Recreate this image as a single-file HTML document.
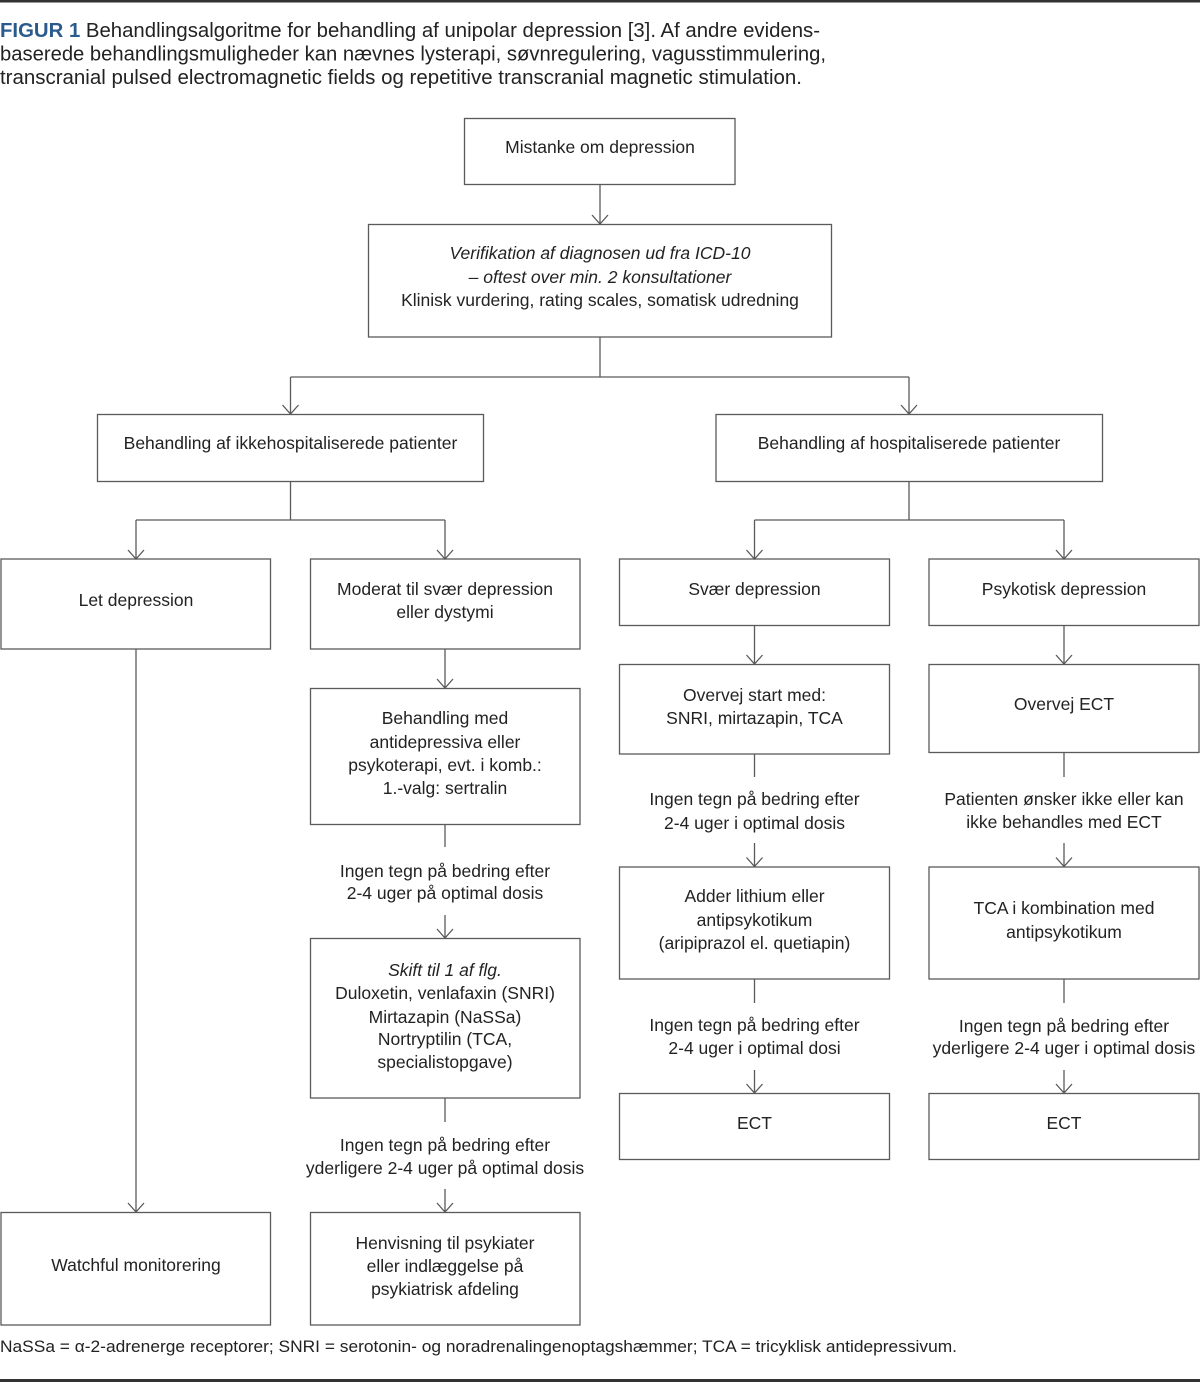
<!DOCTYPE html>
<html>
<head>
<meta charset="utf-8">
<style>
html,body{margin:0;padding:0;background:#fff;}
body{width:1200px;height:1382px;overflow:hidden;}
svg{display:block;}
text{font-family:"Liberation Sans",Arial,sans-serif;fill:#222;}
.t{font-size:17.5px;text-anchor:middle;}
.i{font-style:italic;}
.b{fill:none;stroke:#5a5a5a;stroke-width:1.3;}
.l{fill:none;stroke:#5a5a5a;stroke-width:1.3;}
</style>
</head>
<body>
<svg width="1200" height="1382" viewBox="0 0 1200 1382" xmlns="http://www.w3.org/2000/svg">
<!-- top & bottom rules -->
<rect x="0" y="0" width="1200" height="2.5" fill="#333"/>
<rect x="0" y="1379" width="1200" height="3" fill="#333"/>

<!-- title -->
<text x="0" y="37" font-size="20" textLength="820" lengthAdjust="spacingAndGlyphs"><tspan font-weight="bold" fill="#2b5b8c" style="fill:#2b5b8c">FIGUR 1</tspan> Behandlingsalgoritme for behandling af unipolar depression [3]. Af andre evidens-</text>
<text x="0" y="60.5" font-size="20" textLength="826" lengthAdjust="spacingAndGlyphs">baserede behandlingsmuligheder kan nævnes lysterapi, søvnregulering, vagusstimmulering,</text>
<text x="0" y="84" font-size="20" textLength="802" lengthAdjust="spacingAndGlyphs">transcranial pulsed electromagnetic fields og repetitive transcranial magnetic stimulation.</text>

<!-- boxes -->
<rect class="b" x="464.5" y="118.5" width="270.5" height="66"/>
<rect class="b" x="368.5" y="224.5" width="463" height="112.5"/>
<rect class="b" x="97.5" y="414.5" width="386" height="67"/>
<rect class="b" x="716" y="414.5" width="386.5" height="67"/>
<rect class="b" x="1" y="559" width="269.5" height="90"/>
<rect class="b" x="310.5" y="559" width="269.5" height="90"/>
<rect class="b" x="619.5" y="559" width="270" height="66.5"/>
<rect class="b" x="929" y="559" width="270" height="66.5"/>
<rect class="b" x="310.5" y="688.5" width="269.5" height="136"/>
<rect class="b" x="310.5" y="938.5" width="269.5" height="159.5"/>
<rect class="b" x="310.5" y="1212.5" width="269.5" height="112.5"/>
<rect class="b" x="1" y="1212.5" width="269.5" height="112.5"/>
<rect class="b" x="619.5" y="664.5" width="270" height="89.5"/>
<rect class="b" x="619.5" y="867" width="270" height="112"/>
<rect class="b" x="619.5" y="1093.5" width="270" height="66"/>
<rect class="b" x="929" y="664.5" width="270" height="88"/>
<rect class="b" x="929" y="867" width="270" height="112"/>
<rect class="b" x="929" y="1093.5" width="270" height="66"/>

<!-- connectors -->
<g class="l">
<path d="M600 184.5 V224 M592 215 L600 224 L608 215"/>
<path d="M600 337 V377 M290.5 377 H909 M290.5 377 V414 M282.5 405 L290.5 414 L298.5 405 M909 377 V414 M901 405 L909 414 L917 405"/>
<path d="M290.5 481.5 V520 M136 520 H445 M136 520 V559 M128 550 L136 559 L144 550 M445 520 V559 M437 550 L445 559 L453 550"/>
<path d="M136 649 V1212 M128 1203 L136 1212 L144 1203"/>
<path d="M445 649 V688 M437 679 L445 688 L453 679"/>
<path d="M445 824.5 V847 M445 915 V938 M437 929 L445 938 L453 929"/>
<path d="M445 1098 V1122 M445 1189 V1212 M437 1203 L445 1212 L453 1203"/>
<path d="M909 481.5 V520 M754.5 520 H1064 M754.5 520 V559 M746.5 550 L754.5 559 L762.5 550 M1064 520 V559 M1056 550 L1064 559 L1072 550"/>
<path d="M754.5 625.5 V664 M746.5 655 L754.5 664 L762.5 655 M1064 625.5 V664 M1056 655 L1064 664 L1072 655"/>
<path d="M754.5 754 V777 M754.5 843 V866.5 M746.5 857.5 L754.5 866.5 L762.5 857.5"/>
<path d="M754.5 979 V1003 M754.5 1070 V1093 M746.5 1084 L754.5 1093 L762.5 1084"/>
<path d="M1064 752.5 V777 M1064 843 V866.5 M1056 857.5 L1064 866.5 L1072 857.5"/>
<path d="M1064 979 V1003 M1064 1070 V1093 M1056 1084 L1064 1093 L1072 1084"/>
</g>

<!-- box texts -->
<text class="t" x="600" y="153">Mistanke om depression</text>
<text class="t i" x="600" y="259">Verifikation af diagnosen ud fra ICD-10</text>
<text class="t i" x="600" y="283">– oftest over min. 2 konsultationer</text>
<text class="t" x="600" y="306">Klinisk vurdering, rating scales, somatisk udredning</text>

<text class="t" x="290.5" y="449">Behandling af ikkehospitaliserede patienter</text>
<text class="t" x="909" y="449">Behandling af hospitaliserede patienter</text>

<text class="t" x="136" y="606">Let depression</text>
<text class="t" x="445" y="595">Moderat til svær depression</text>
<text class="t" x="445" y="618">eller dystymi</text>
<text class="t" x="754.5" y="595">Svær depression</text>
<text class="t" x="1064" y="595">Psykotisk depression</text>

<text class="t" x="445" y="724">Behandling med</text>
<text class="t" x="445" y="748">antidepressiva eller</text>
<text class="t" x="445" y="771">psykoterapi, evt. i komb.:</text>
<text class="t" x="445" y="794">1.-valg: sertralin</text>

<text class="t" x="445" y="877">Ingen tegn på bedring efter</text>
<text class="t" x="445" y="899">2-4 uger på optimal dosis</text>

<text class="t i" x="445" y="976">Skift til 1 af flg.</text>
<text class="t" x="445" y="999">Duloxetin, venlafaxin (SNRI)</text>
<text class="t" x="445" y="1023">Mirtazapin (NaSSa)</text>
<text class="t" x="445" y="1045">Nortryptilin (TCA,</text>
<text class="t" x="445" y="1068">specialistopgave)</text>

<text class="t" x="445" y="1151">Ingen tegn på bedring efter</text>
<text class="t" x="445" y="1174">yderligere 2-4 uger på optimal dosis</text>

<text class="t" x="445" y="1249">Henvisning til psykiater</text>
<text class="t" x="445" y="1272">eller indlæggelse på</text>
<text class="t" x="445" y="1295">psykiatrisk afdeling</text>

<text class="t" x="136" y="1271">Watchful monitorering</text>

<text class="t" x="754.5" y="701">Overvej start med:</text>
<text class="t" x="754.5" y="724">SNRI, mirtazapin, TCA</text>

<text class="t" x="754.5" y="805">Ingen tegn på bedring efter</text>
<text class="t" x="754.5" y="829">2-4 uger i optimal dosis</text>

<text class="t" x="754.5" y="902">Adder lithium eller</text>
<text class="t" x="754.5" y="926">antipsykotikum</text>
<text class="t" x="754.5" y="949">(aripiprazol el. quetiapin)</text>

<text class="t" x="754.5" y="1031">Ingen tegn på bedring efter</text>
<text class="t" x="754.5" y="1054">2-4 uger i optimal dosi</text>

<text class="t" x="754.5" y="1129">ECT</text>

<text class="t" x="1064" y="710">Overvej ECT</text>

<text class="t" x="1064" y="805">Patienten ønsker ikke eller kan</text>
<text class="t" x="1064" y="828">ikke behandles med ECT</text>

<text class="t" x="1064" y="914">TCA i kombination med</text>
<text class="t" x="1064" y="938">antipsykotikum</text>

<text class="t" x="1064" y="1032">Ingen tegn på bedring efter</text>
<text class="t" x="1064" y="1054">yderligere 2-4 uger i optimal dosis</text>

<text class="t" x="1064" y="1129">ECT</text>

<!-- footnote -->
<text x="0" y="1352" font-size="16.5" textLength="957" lengthAdjust="spacingAndGlyphs">NaSSa = α-2-adrenerge receptorer; SNRI = serotonin- og noradrenalingenoptagshæmmer; TCA = tricyklisk antidepressivum.</text>
</svg>
</body>
</html>
